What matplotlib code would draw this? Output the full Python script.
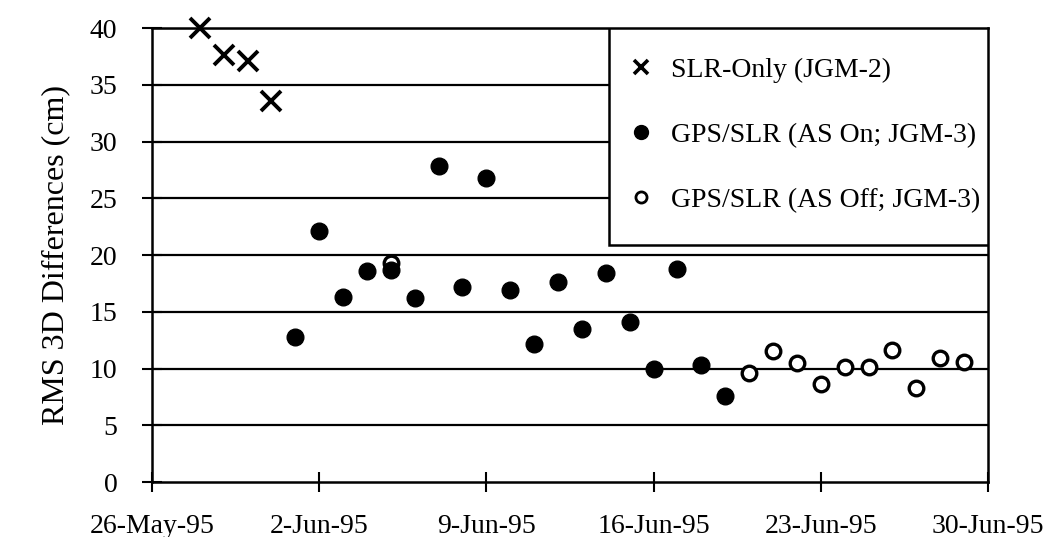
import numpy as np
import pandas as pd
import matplotlib
matplotlib.use("Agg")
import matplotlib.pyplot as plt
import matplotlib.dates as mdates
from matplotlib.lines import Line2D
from matplotlib.patches import Rectangle

plt.rcParams['font.family'] = ['Liberation Serif', 'DejaVu Serif']

# SLR-only solution (JGM-2)
slr_dates = ['1995-05-28', '1995-05-29', '1995-05-30', '1995-05-31']
slr_rms = [40.0, 37.6, 37.1, 33.6]

# GPS/SLR, AS on (JGM-3)
on_dates = ['1995-06-01', '1995-06-02', '1995-06-03', '1995-06-04', '1995-06-05',
            '1995-06-06', '1995-06-07', '1995-06-08', '1995-06-09', '1995-06-10',
            '1995-06-11', '1995-06-12', '1995-06-13', '1995-06-14', '1995-06-15',
            '1995-06-16', '1995-06-17', '1995-06-18', '1995-06-19']
on_rms = [12.8, 22.1, 16.3, 18.6, 18.7, 16.2, 27.8, 17.2, 26.8, 16.9,
          12.2, 17.6, 13.5, 18.4, 14.1, 10.0, 18.8, 10.3, 7.6]

# GPS/SLR, AS off (JGM-3)
off_dates = ['1995-06-05', '1995-06-20', '1995-06-21', '1995-06-22', '1995-06-23',
             '1995-06-24', '1995-06-25', '1995-06-26', '1995-06-27', '1995-06-28',
             '1995-06-29']
off_rms = [19.3, 9.6, 11.5, 10.5, 8.6, 10.1, 10.1, 11.6, 8.3, 10.9, 10.6]

tick_dates = ['1995-05-26', '1995-06-02', '1995-06-09', '1995-06-16',
              '1995-06-23', '1995-06-30']
yticks = [0, 5, 10, 15, 20, 25, 30, 35, 40]

fig = plt.figure(figsize=(10.6, 5.37), dpi=100)
ax = fig.add_axes([0.1434, 0.1024, 0.7886, 0.8454])

# horizontal grid lines
for y in yticks[1:]:
    ax.axhline(y, color='black', lw=1.6, zorder=1)

ax.plot(pd.to_datetime(off_dates), off_rms, 'o', ms=10.5, mfc='white',
        mec='black', mew=2.4, ls='none', zorder=3)
ax.plot(pd.to_datetime(on_dates), on_rms, 'o', ms=12, color='black',
        ls='none', zorder=4)
ax.plot(pd.to_datetime(slr_dates), slr_rms, 'x', ms=14, mew=2.8,
        color='black', ls='none', zorder=4, clip_on=False)

ax.set_xlim(pd.Timestamp('1995-05-26'), pd.Timestamp('1995-06-30'))
ax.set_ylim(0, 40)
ax.set_xticks(pd.to_datetime(tick_dates))
ax.xaxis.set_major_formatter(mdates.DateFormatter('%-d-%b-%y'))
ax.set_yticks(yticks)
ax.tick_params(direction='inout', length=14, width=1.5, labelsize=20,
               colors='black')
ax.tick_params(axis='x', pad=16)
ax.tick_params(axis='y', pad=18)
for s in ax.spines.values():
    s.set_linewidth(1.8)

ax.set_ylabel('RMS 3D Differences (cm)', fontsize=23, labelpad=14)

# legend box
box = Rectangle((0.547, 0.522), 0.453, 0.478, transform=ax.transAxes,
                facecolor='white', edgecolor='black', lw=1.8, zorder=5)
ax.add_patch(box)
handles = [
    Line2D([], [], marker='x', ls='none', color='black', ms=10, mew=2.6),
    Line2D([], [], marker='o', ls='none', color='black', ms=10),
    Line2D([], [], marker='o', ls='none', mfc='white', mec='black', ms=8, mew=2),
]
labels = ['SLR-Only (JGM-2)', 'GPS/SLR (AS On; JGM-3)', 'GPS/SLR (AS Off; JGM-3)']
leg = ax.legend(handles, labels, loc='upper left', bbox_to_anchor=(0.539, 0.99),
                frameon=False, fontsize=20, handlelength=1.0, handletextpad=0.55,
                labelspacing=1.42)
leg.set_zorder(6)

fig.savefig('out.png', dpi=100)
